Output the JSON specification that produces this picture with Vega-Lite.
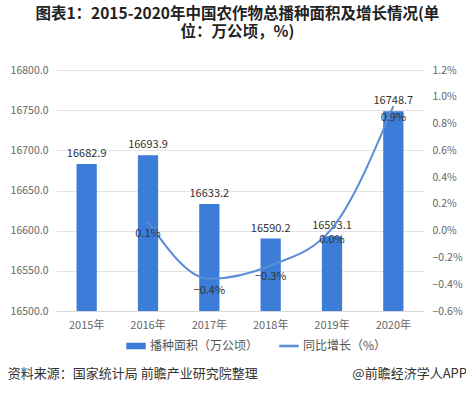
{
  "$schema": "https://vega.github.io/schema/vega-lite/v6.json",
  "padding": {"top": 6, "left": 7, "right": 0, "bottom": 0},
  "background": "white",
  "title": {
    "text": ["图表1：2015-2020年中国农作物总播种面积及增长情况(单", "位：万公顷，%)"],
    "font": "Noto Sans CJK SC",
    "fontSize": 15.5,
    "fontWeight": "bold",
    "color": "#222222",
    "lineHeight": 18,
    "anchor": "middle",
    "offset": 25
  },
  "config": {
    "view": {"stroke": null},
    "font": "Noto Sans CJK SC",
    "axis": {"labelFont": "Noto Sans CJK SC", "labelColor": "#666666", "labelFontSize": 10.5},
    "legend": {"labelFont": "Noto Sans CJK SC"}
  },
  "spacing": 15,
  "resolve": {"scale": {"color": "independent"}, "legend": {"color": "independent"}},
  "vconcat": [
    {
      "width": 368,
      "height": 241,
      "data": {
        "values": [
          {"year": "2015年", "area": 16682.9, "growth": null},
          {"year": "2016年", "area": 16693.9, "growth": 0.00066},
          {"year": "2017年", "area": 16633.2, "growth": -0.0036},
          {"year": "2018年", "area": 16590.2, "growth": -0.0026},
          {"year": "2019年", "area": 16593.1, "growth": 0.00017},
          {"year": "2020年", "area": 16748.7, "growth": 0.0093}
        ]
      },
      "encoding": {
        "x": {
          "field": "year",
          "type": "nominal",
          "sort": null,
          "scale": {"paddingInner": 0.67, "paddingOuter": 0.335},
          "axis": {"title": null, "labelAngle": 0, "ticks": false, "domainColor": "#d9d9d9", "labelPadding": 8, "labelFontSize": 11}
        }
      },
      "layer": [
        {
          "encoding": {
            "y": {
              "field": "area",
              "type": "quantitative",
              "scale": {"domain": [16500, 16800], "zero": false, "nice": false},
              "axis": {"title": null, "format": ".1f", "values": [16500, 16550, 16600, 16650, 16700, 16750, 16800], "domain": false, "ticks": false, "gridColor": "#e3e3e3", "labelPadding": 8}
            }
          },
          "layer": [
            {
              "mark": {"type": "bar", "clip": true},
              "encoding": {
                "color": {
                  "datum": "播种面积（万公顷）",
                  "scale": {"domain": ["播种面积（万公顷）", "同比增长（%）"], "range": ["#3b7dd8", "#5b8ed6"]},
                  "legend": {
                    "title": null,
                    "orient": "none",
                    "legendX": 70,
                    "legendY": 266,
                    "direction": "horizontal",
                    "labelFontSize": 12,
                    "labelColor": "#555555",
                    "symbolSize": 324,
                    "columnPadding": 18,
                    "encode": {
                      "symbols": {
                        "update": {
                          "shape": {"signal": "datum.label == '播种面积（万公顷）' ? 'M-1,-0.28H1V0.28H-1Z' : 'M-1,-0.06H1V0.06H-1Z'"},
                          "fill": {"signal": "datum.label == '播种面积（万公顷）' ? '#3b7dd8' : '#5b8ed6'"},
                          "stroke": {"value": "transparent"},
                          "fillOpacity": {"value": 1}
                        }
                      }
                    }
                  }
                }
              }
            },
            {
              "mark": {"type": "text", "dy": -10, "fontSize": 11, "color": "#333333"},
              "encoding": {
                "text": {"field": "area", "type": "quantitative", "format": ".1f"}
              }
            }
          ]
        },
        {
          "encoding": {
            "y": {
              "field": "growth",
              "type": "quantitative",
              "scale": {"domain": [-0.006, 0.012], "nice": false, "zero": false},
              "axis": {"title": null, "orient": "right", "format": ".1%", "values": [-0.006, -0.004, -0.002, 0, 0.002, 0.004, 0.006, 0.008, 0.01, 0.012], "grid": false, "domain": false, "ticks": false, "labelPadding": 8}
            }
          },
          "layer": [
            {
              "mark": {"type": "line", "interpolate": "monotone", "strokeWidth": 2},
              "encoding": {
                "color": {"datum": "同比增长（%）"}
              }
            },
            {
              "mark": {"type": "text", "dy": 12, "fontSize": 11, "color": "#333333"},
              "encoding": {
                "text": {"field": "growth", "type": "quantitative", "format": ".1%"}
              }
            }
          ]
        }
      ],
      "resolve": {"scale": {"y": "independent"}}
    },
    {
      "width": 411,
      "height": 14,
      "data": {"values": [{}]},
      "layer": [
        {
          "mark": {"type": "text", "align": "left", "fontSize": 13, "color": "#333333"},
          "encoding": {
            "x": {"datum": 0, "type": "quantitative", "scale": {"domain": [0.105, 1], "zero": false, "nice": false}, "axis": null},
            "text": {"datum": "资料来源：国家统计局 前瞻产业研究院整理"}
          }
        },
        {
          "mark": {"type": "text", "align": "right", "fontSize": 13, "color": "#333333"},
          "encoding": {
            "x": {"datum": 1, "type": "quantitative", "scale": {"domain": [0.105, 1], "zero": false, "nice": false}, "axis": null},
            "text": {"datum": "@前瞻经济学人APP"}
          }
        }
      ]
    }
  ]
}
